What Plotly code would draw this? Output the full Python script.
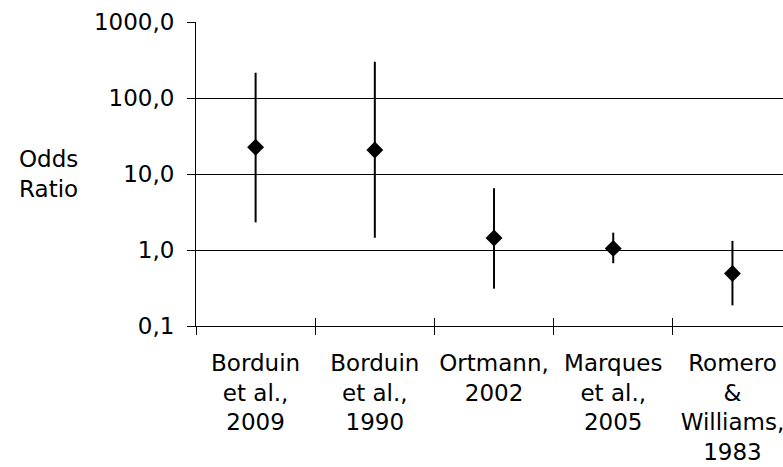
import plotly.graph_objects as go

studies = ["Borduin<br>et al.,<br>2009", "Borduin<br>et al.,<br>1990", "Ortmann,<br>2002",
           "Marques<br>et al.,<br>2005", "Romero<br>&<br>Williams,<br>1983"]
odds = [22.5, 20.7, 1.44, 1.05, 0.49]
ci_high = [215, 300, 6.5, 1.69, 1.32]
ci_low = [2.31, 1.45, 0.31, 0.67, 0.187]
ytick_vals = [0.1, 1, 10, 100, 1000]
ytick_text = ["0,1", "1,0", "10,0", "100,0", "1000,0"]

err_plus = [h - v for h, v in zip(ci_high, odds)]
err_minus = [v - l for v, l in zip(odds, ci_low)]

FONT = "DejaVu Sans"
FS = 23
fig = go.Figure()
fig.add_trace(go.Scatter(
    x=studies, y=odds, mode="markers",
    marker=dict(symbol="diamond", size=13, color="black"),
    error_y=dict(type="data", array=err_plus, arrayminus=err_minus,
                 symmetric=False, width=0, thickness=2, color="black"),
    showlegend=False,
))
fig.add_trace(go.Scatter(x=studies, y=odds, xaxis="x2", mode="markers",
                         marker=dict(opacity=0), showlegend=False, hoverinfo="skip"))

xr = [-0.5, 4.424]
fig.update_layout(
    width=783, height=467,
    margin=dict(l=196, r=0, t=22, b=141),
    plot_bgcolor="white", paper_bgcolor="white",
    font=dict(family=FONT, size=FS, color="black"),
    xaxis=dict(type="category", range=xr, showgrid=False,
               showline=True, linecolor="black", linewidth=1,
               ticks="outside", ticklen=8, tickcolor="black", tickwidth=1,
               tickson="boundaries", ticklabelstandoff=16,
               tickfont=dict(family=FONT, size=FS, color="black")),
    xaxis2=dict(type="category", range=xr, overlaying="x", side="bottom",
                anchor="y", showgrid=False, showline=False,
                ticks="inside", ticklen=8, tickcolor="black", tickwidth=1,
                tickson="boundaries", showticklabels=False),
    yaxis=dict(type="log", range=[-1, 3], tickvals=ytick_vals, ticktext=ytick_text,
               showgrid=True, gridcolor="black", gridwidth=1,
               showline=True, linecolor="black", linewidth=1,
               ticks="outside", ticklen=8, tickcolor="black", tickwidth=1,
               ticklabelstandoff=8, zeroline=False,
               tickfont=dict(family=FONT, size=FS, color="black")),
    annotations=[dict(text="Odds<br>Ratio", xref="paper", yref="paper",
                      x=-0.252, y=0.5, xanchor="center", yanchor="middle",
                      showarrow=False, align="center",
                      font=dict(family=FONT, size=FS, color="black"))],
)
fig.write_html("out.html")
